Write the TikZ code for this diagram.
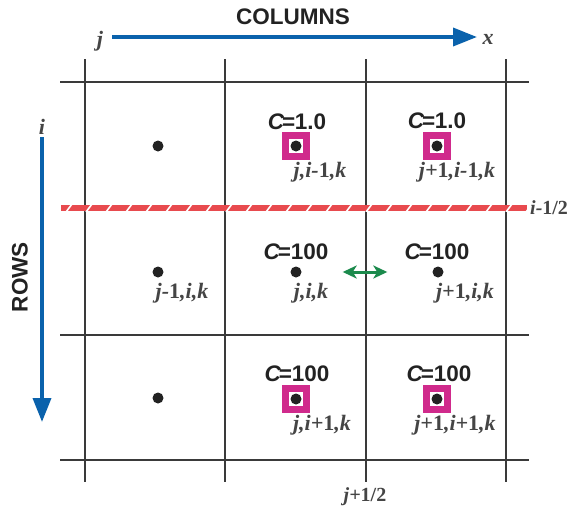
\documentclass[tikz,border=0pt]{standalone}
\usepackage{fontspec}
\setmainfont{Liberation Serif}
\setsansfont{Liberation Sans}
\usetikzlibrary{arrows.meta}
\definecolor{gridc}{HTML}{3A3A3A}
\definecolor{bluec}{HTML}{0A62AC}
\definecolor{magc}{HTML}{D02A8C}
\definecolor{redc}{HTML}{E84A4E}
\definecolor{greenc}{HTML}{1B8A4C}
\definecolor{labc}{HTML}{454545}
\definecolor{darkc}{HTML}{222222}
\newcommand{\Clab}[1]{\textit{C}\kern-2.2pt=\kern-0.3pt#1}
\begin{document}
\begin{tikzpicture}[x=1pt,y=-1pt,
  gridline/.style={gridc, line width=1.3pt},
  cl/.style={font=\fontsize{22.5}{22.5}\selectfont\sffamily\bfseries, text=darkc, inner sep=0},
  il/.style={font=\fontsize{22}{22}\selectfont\bfseries\itshape, text=labc, inner sep=0},
  axl/.style={font=\fontsize{22}{22}\selectfont\bfseries\itshape, text=labc, inner sep=0},
  head/.style={font=\fontsize{22.5}{22.5}\selectfont\sffamily\bfseries, text=darkc, inner sep=0},
  dot/.style={circle, fill=darkc, minimum size=11pt, inner sep=0},
  mbox/.style={draw=magc, line width=7pt, fill=white, minimum size=21pt, inner sep=0},
  bluearrow/.style={bluec, line width=3.5pt, -{Triangle[length=24pt,width=18pt]}},
  greenarrow/.style={greenc, line width=3pt, {Stealth[length=14pt,width=13pt,inset=4pt]}-{Stealth[length=14pt,width=13pt,inset=4pt]}}]
\useasboundingbox (0,0) rectangle (571,509);
\fill[white] (0,0) rectangle (571,509);
% grid
\foreach \x in {85,225,366,506} \draw[gridline] (\x,59) -- (\x,482);
\foreach \y in {82,335,460} \draw[gridline] (60,\y) -- (529,\y);
% red dashed band
\fill[redc] (61,205) rectangle (527,211);
\begin{scope}
  \clip (61,205) rectangle (527,211);
  \foreach \x in {69,89,...,529} \draw[white, line width=1.6pt] (\x-3,212) -- (\x+3,204);
\end{scope}
% magenta boxes
\node[mbox] (b12) at (296,146) {};
\node[mbox] (b13) at (437,146) {};
\node[mbox] (b32) at (296,399) {};
\node[mbox] (b33) at (437,399) {};
% dots
\node[dot] (d11) at (158,146) {};
\node[dot] (d12) at (296,146) {};
\node[dot] (d13) at (437,146) {};
\node[dot] (d21) at (158,272) {};
\node[dot] (d22) at (296,272) {};
\node[dot] (d23) at (438,272) {};
\node[dot] (d31) at (158,398) {};
\node[dot] (d32) at (296,399) {};
\node[dot] (d33) at (437,399) {};
% C labels
\node[cl] (c12) at (297,122) {\Clab{1.0}};
\node[cl] (c13) at (437,121) {\Clab{1.0}};
\node[cl] (c22) at (296,252) {\Clab{100}};
\node[cl] (c23) at (437,252) {\Clab{100}};
\node[cl] (c32) at (297,374) {\Clab{100}};
\node[cl] (c33) at (439,374) {\Clab{100}};
% index labels
\node[il] (l12) at (320,172) {j,i-\textup{1},k};
\node[il] (l13) at (457,172) {j+\textup{1},i-\textup{1},k};
\node[il] (l21) at (182,293) {j-\textup{1},i,k};
\node[il] (l22) at (311,293) {j,i,k};
\node[il] (l23) at (465,293) {j+\textup{1},i,k};
\node[il] (l32) at (322,425) {j,i+\textup{1},k};
\node[il] (l33) at (455,425) {j+\textup{1},i+\textup{1},k};
% headings and axis labels
\node[head] (cols) at (293,17) {COLUMNS};
\node[head, rotate=90] (rows) at (20,277) {ROWS};
\node[axl] (jl) at (100,41) {j};
\node[axl] (xl) at (488,39) {x};
\node[axl] (il) at (42,127) {i};
\node[il, anchor=west, font=\fontsize{20}{20}\selectfont\bfseries\itshape] (ihalf) at (530,208) {i-\textup{1/2}};
\node[il, font=\fontsize{20}{20}\selectfont\bfseries\itshape] (jhalf) at (365,497) {j+\textup{1/2}};
% arrows
\coordinate (ja) at (112,37);
\coordinate (jb) at (477,37);
\coordinate (ia) at (42,137);
\coordinate (ib) at (42,422);
\draw[bluearrow] (ja) -- (jb);
\draw[bluearrow] (ia) -- (ib);
\draw[greenarrow, shorten <=41pt, shorten >=45pt] (d22) -- (d23);
\end{tikzpicture}
\end{document}
